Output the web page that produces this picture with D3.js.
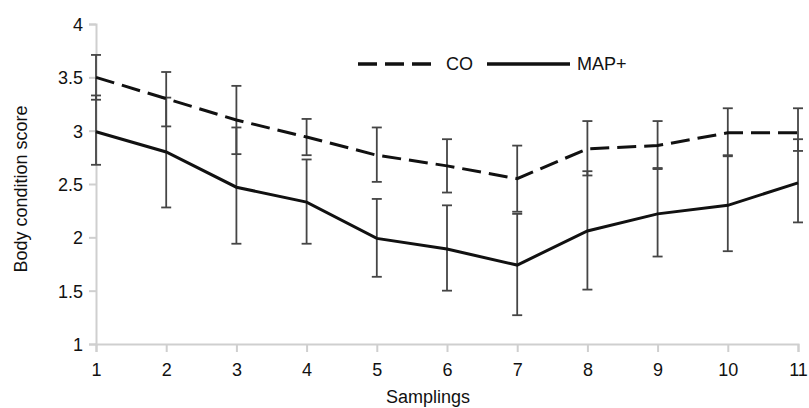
<!DOCTYPE html>
<html>
<head>
<meta charset="utf-8">
<script src="https://cdn.jsdelivr.net/npm/d3@7"></script>
<style>
  body { margin: 0; background: #fff; }
  text { font-family: "Liberation Sans", Arial, sans-serif; }
</style>
</head>
<body>
<svg width="809" height="408"></svg>
<script>
// data ***********************************************************
var samplings = [1, 2, 3, 4, 5, 6, 7, 8, 9, 10, 11];
var yTicks = [1, 1.5, 2, 2.5, 3, 3.5, 4];

var coMean  = [3.50, 3.30, 3.10, 2.94, 2.77, 2.67, 2.55, 2.83, 2.86, 2.98, 2.98];
var coLow   = [3.29, 3.04, 2.78, 2.77, 2.52, 2.42, 2.24, 2.58, 2.65, 2.77, 2.81];
var coHigh  = [3.71, 3.55, 3.42, 3.11, 3.03, 2.92, 2.86, 3.09, 3.09, 3.21, 3.21];

var mapMean = [2.99, 2.80, 2.47, 2.33, 1.99, 1.89, 1.74, 2.06, 2.22, 2.30, 2.51];
var mapLow  = [2.68, 2.28, 1.94, 1.94, 1.63, 1.50, 1.27, 1.51, 1.82, 1.87, 2.14];
var mapHigh = [3.33, 3.31, 3.03, 2.73, 2.36, 2.30, 2.22, 2.62, 2.64, 2.76, 2.92];

var series = [
    { name: 'CO', mean: coMean, low: coLow, high: coHigh, dash: '19,8' },
    { name: 'MAP+', mean: mapMean, low: mapLow, high: mapHigh, dash: null }
];

// layout *********************************************************
var svg = d3.select('svg');
var plotLeft = 96, plotRight = 798, plotTop = 24, plotBottom = 344;
var axisColor = '#cfcfcf';
var barColor = '#454545';
var fontSize = '18px';

var x = d3.scaleLinear().domain([1, 11]).range([plotLeft, plotRight]);
var y = d3.scaleLinear().domain([1, 4]).range([plotBottom, plotTop]);

// axes
var xAxis = svg.append('g')
    .attr('transform', `translate(0,${plotBottom})`)
    .call(d3.axisBottom(x).tickValues(samplings).tickSize(8).tickPadding(11).tickFormat(d3.format('d')));
var yAxis = svg.append('g')
    .attr('transform', `translate(${plotLeft},0)`)
    .call(d3.axisLeft(y).tickValues(yTicks).tickSize(7).tickPadding(6).tickFormat(d => d));

[xAxis, yAxis].forEach(function (g) {
    g.select('.domain').attr('stroke', axisColor).attr('stroke-width', 2);
    g.selectAll('.tick line').attr('stroke', axisColor).attr('stroke-width', 2);
    g.selectAll('.tick text').attr('fill', '#111').style('font-size', fontSize);
});
yAxis.selectAll('.tick text').attr('dy', '0.36em');

// error bars
var cap = 5;
series.forEach(function (s) {
    var g = svg.append('g').attr('stroke', barColor).attr('stroke-width', 1.8);
    samplings.forEach(function (d, i) {
        var cx = x(d);
        g.append('line').attr('x1', cx).attr('x2', cx).attr('y1', y(s.low[i])).attr('y2', y(s.high[i]));
        g.append('line').attr('x1', cx - cap).attr('x2', cx + cap).attr('y1', y(s.low[i])).attr('y2', y(s.low[i]));
        g.append('line').attr('x1', cx - cap).attr('x2', cx + cap).attr('y1', y(s.high[i])).attr('y2', y(s.high[i]));
    });
});

// lines
var line = d3.line()
    .x((d, i) => x(samplings[i]))
    .y(d => y(d));

series.forEach(function (s) {
    svg.append('path')
        .datum(s.mean)
        .attr('d', line)
        .attr('fill', 'none')
        .attr('stroke', '#111')
        .attr('stroke-width', 3)
        .attr('stroke-dasharray', s.dash);
});

// legend
var legendY = 64;
var legendItems = [
    { s: series[0], x1: 358, x2: 432, tx: 446 },
    { s: series[1], x1: 487, x2: 570, tx: 577 }
];
legendItems.forEach(function (l) {
    svg.append('line')
        .attr('x1', l.x1).attr('x2', l.x2)
        .attr('y1', legendY).attr('y2', legendY)
        .attr('stroke', '#111').attr('stroke-width', 3.5)
        .attr('stroke-dasharray', l.s.dash);
    svg.append('text')
        .attr('x', l.tx).attr('y', legendY).attr('dy', '0.36em')
        .style('font-size', fontSize).attr('fill', '#111')
        .text(l.s.name);
});

// titles
svg.append('text')
    .attr('x', 428).attr('y', 403)
    .attr('text-anchor', 'middle')
    .style('font-size', fontSize).attr('fill', '#111')
    .text('Samplings');

svg.append('text')
    .attr('transform', 'translate(27,189) rotate(-90)')
    .attr('text-anchor', 'middle')
    .style('font-size', fontSize).attr('fill', '#111')
    .text('Body condition score');
</script>
</body>
</html>
